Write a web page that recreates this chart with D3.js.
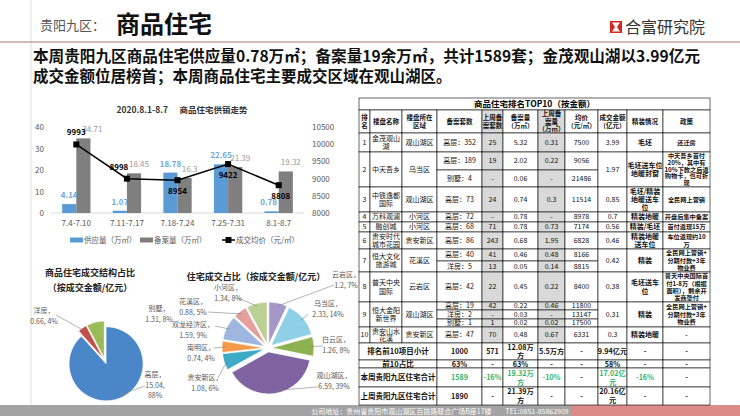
<!DOCTYPE html>
<html>
<head>
<meta charset="utf-8">
<script src="https://cdn.jsdelivr.net/npm/d3@7"></script>
<style>
body { margin: 0; background: #fff; }
svg { display: block; }
</style>
</head>
<body>
<script>
const FONT = '"Noto Sans CJK SC", "Noto Sans", sans-serif';

// ---- bar / line chart data
const weeks = ["7.4-7.10", "7.11-7.17", "7.18-7.24", "7.25-7.31", "8.1-8.7"];
const supply = [4.14, 1.07, 18.78, 22.65, 0.78];
const filed = [34.71, 18.45, 16.3, 21.39, 19.32];
const price = [9993, 8998, 8954, 9422, 8808];
const leftTicks = [0, 10, 20, 30, 40];
const rightTicks = [8000, 8500, 9000, 9500, 10000, 10500];

// ---- structure pie
const typeNames = ["高层", "洋房", "别墅"];
const typeValues = [15.04, 0.66, 1.31];
const typePct = ["88%", "4%", "8%"];

// ---- district pie
const districts = ["云岩区", "乌当区", "白云区", "观山湖区", "贵安新区", "南明区", "双龙经济区", "花溪区", "小河区"];
const districtValues = [1.2, 2.33, 1.26, 6.59, 1.08, 0.74, 1.59, 0.88, 1.34];
const districtPct = ["7%", "14%", "8%", "39%", "6%", "4%", "9%", "5%", "8%"];

// ---- top10 table
const headers = ["排\n名", "楼盘名称", "楼盘所在\n区域", "备案套数", "上周备\n案套数", "备案量\n（万㎡）",
    "上周备\n案量\n（万㎡）", "均价\n（元/㎡）", "成交金额\n（亿元）", "精装情况", "政策"];
const ranks = ["1", "2", "3", "4", "5", "6", "7", "8", "9", "10"];
const projects = ["金茂观山\n湖", "中天吾乡", "中铁逸都\n国际", "万科观澜", "融创城", "贵安时代\n城市花园",
    "恒大文化\n旅游城", "普天中央\n国际", "恒大金阳\n新世界", "贵安山水\n花溪"];
const areas = ["观山湖区", "乌当区", "观山湖区", "小河区", "小河区", "贵安新区", "花溪区", "云岩区", "观山湖区", "贵安新区"];
const unitSets = [["高层：352"], ["高层：189", "别墅：4"], ["高层：73"], ["高层：72"], ["高层：68"], ["高层：86"],
    ["高层：40", "洋房：5"], ["高层：42"], ["高层：19", "洋房：2", "别墅：1"], ["高层：47"]];
const lastUnits = [["25"], ["19", "-"], ["24"], ["-"], ["71"], ["243"], ["41", "13"], ["22"], ["42", "-", "1"], ["70"]];
const volumes = [["5.32"], ["2.02", "0.06"], ["0.74"], ["0.78"], ["0.78"], ["0.68"], ["0.46", "0.05"], ["0.45"],
    ["0.22", "0.03", "0.02"], ["0.48"]];
const lastVolumes = [["0.31"], ["0.22", "-"], ["0.3"], ["-"], ["0.73"], ["1.95"], ["0.48", "0.14"], ["0.22"],
    ["0.46", "-", "0.02"], ["0.67"]];
const avgPrices = [["7500"], ["9056", "21486"], ["11514"], ["8978"], ["7174"], ["6828"], ["8166", "8815"], ["8400"],
    ["11800", "13147", "17500"], ["6331"]];
const amounts = ["3.99", "1.97", "0.85", "0.7", "0.56", "0.46", "0.42", "0.38", "0.31", "0.3"];
const finishes = ["毛坯", "毛坯送车位\n地暖封窗", "毛坯/精装\n地暖送车\n位", "精装地暖", "精装/毛坯", "精装地暖\n送车位",
    "精装", "毛坯送车\n位", "精装", "精装地暖"];
const policies = ["还迁房", "中天吾乡首付\n20%，其中有\n10%下款之后返\n购物卡，也可折\n现", "全民网上营销",
    "开盘后集中备案", "首付返现15万", "车位返现约10\n万", "全民网上营销+\n分期付款+3年\n物业费",
    "普天中央国际首\n付1-8万（根据\n面积），剩余开\n发商垫付", "全民网上营销+\n分期付款+3年\n物业费", "-"];
const totalLabels = ["排名前10项目小计", "前10占比", "本周贵阳九区住宅合计", "上周贵阳九区住宅合计"];
const totals = [
    ["1000", "571", "12.08万\n方", "5.5万方", "-", "9.94亿元", "-", "-"],
    ["63%", "-", "63%", "-", "-", "58%", "-", "-"],
    ["1589", "-16%", "19.32万\n方", "-10%", "-", "17.02亿\n元", "-16%", "-"],
    ["1890", "-", "21.39万\n方", "-", "-", "20.16亿\n元", "-", "-"]
];

var svg = d3.select("body")
    .append("svg")
    .attr("width", 740)
    .attr("height", 416)
    .style("font-family", FONT);

// ---------- page frame
svg.append("line")
    .attr("x1", 31).attr("x2", 31).attr("y1", 0).attr("y2", 405)
    .attr("stroke", "#dcdcdc");
svg.append("line")
    .attr("x1", 0).attr("x2", 740).attr("y1", 42).attr("y2", 42)
    .attr("stroke", "#c9a1a1").attr("stroke-width", 1.5);

svg.append("text")
    .attr("x", 40).attr("y", 30)
    .attr("font-size", 13).attr("fill", "#555")
    .text("贵阳九区：");
svg.append("text")
    .attr("x", 116).attr("y", 33)
    .attr("font-size", 24).attr("font-weight", "bold").attr("fill", "#111")
    .text("商品住宅");

// logo
var logo = svg.append("g").attr("transform", "translate(610,21)");
logo.append("rect").attr("width", 12).attr("height", 12).attr("fill", "#d8251d");
logo.append("path").attr("d", "M2,1.5H10L7,6L10,10.5H2L5,6Z").attr("fill", "#fff");
svg.append("text")
    .attr("x", 625).attr("y", 33)
    .attr("font-size", 16).attr("fill", "#333")
    .text("合富研究院");

svg.append("text")
    .attr("x", 33).attr("y", 62)
    .attr("font-size", 15.5).attr("font-weight", "bold").attr("fill", "#111")
    .attr("textLength", 667).attr("lengthAdjust", "spacingAndGlyphs")
    .text("本周贵阳九区商品住宅供应量0.78万㎡；备案量19余万㎡，共计1589套；金茂观山湖以3.99亿元");
svg.append("text")
    .attr("x", 33).attr("y", 82)
    .attr("font-size", 15.5).attr("font-weight", "bold").attr("fill", "#111")
    .text("成交金额位居榜首；本周商品住宅主要成交区域在观山湖区。");

// footer
svg.append("rect").attr("x", 0).attr("y", 405).attr("width", 740).attr("height", 11).attr("fill", "#a3a3a3");
svg.append("rect").attr("x", 571).attr("y", 405).attr("width", 169).attr("height", 11).attr("fill", "#dc8b8b");
svg.append("text")
    .attr("x", 440).attr("y", 413.5)
    .attr("text-anchor", "middle")
    .attr("font-size", 7).attr("fill", "#fff")
    .text("公司地址：贵州省贵阳市观山湖区百挑路联合广场B座17楼　　TEL:0851-85862909");

// ---------- bar + line chart
var x = d3.scaleBand().domain(weeks).range([51, 304]).paddingInner(0.44).paddingOuter(0.22);
var yL = d3.scaleLinear().domain([0, 40]).range([213, 127]);
var yR = d3.scaleLinear().domain([8000, 10500]).range([213, 127]);
var bw = x.bandwidth() / 2;

svg.append("text")
    .attr("x", 182).attr("y", 113)
    .attr("text-anchor", "middle")
    .attr("font-size", 8.5).attr("font-weight", "bold").attr("fill", "#333")
    .attr("xml:space", "preserve")
    .text("2020.8.1-8.7      商品住宅供销走势");

svg.selectAll(".lt")
    .data(leftTicks)
    .enter()
    .append("text")
    .attr("class", "lt")
    .attr("x", 44)
    .attr("y", d => yL(d) + 3)
    .attr("text-anchor", "end")
    .attr("font-size", 8).attr("fill", "#595959")
    .text(d => d);

svg.selectAll(".rt")
    .data(rightTicks)
    .enter()
    .append("text")
    .attr("class", "rt")
    .attr("x", 312)
    .attr("y", d => yR(d) + 3)
    .attr("font-size", 8).attr("fill", "#595959")
    .text(d => d);

svg.append("line")
    .attr("x1", 51).attr("x2", 304).attr("y1", yL(0)).attr("y2", yL(0))
    .attr("stroke", "#d9d9d9");

svg.selectAll(".supply")
    .data(supply)
    .enter()
    .append("rect")
    .attr("class", "supply")
    .attr("x", (d, i) => x(weeks[i]))
    .attr("y", d => yL(d))
    .attr("width", bw)
    .attr("height", d => yL(0) - yL(d))
    .attr("fill", "#5b9bd5");

svg.selectAll(".filed")
    .data(filed)
    .enter()
    .append("rect")
    .attr("class", "filed")
    .attr("x", (d, i) => x(weeks[i]) + bw)
    .attr("y", d => yL(d))
    .attr("width", bw)
    .attr("height", d => yL(0) - yL(d))
    .attr("fill", "#7f7f7f");

svg.selectAll(".cat")
    .data(weeks)
    .enter()
    .append("text")
    .attr("class", "cat")
    .attr("x", d => x(d) + x.bandwidth() / 2)
    .attr("y", 226)
    .attr("text-anchor", "middle")
    .attr("font-size", 8).attr("fill", "#595959")
    .text(d => d);

svg.selectAll(".sl")
    .data(supply)
    .enter()
    .append("text")
    .attr("class", "sl")
    .attr("x", (d, i) => x(weeks[i]) + bw / 2 - (i === 4 ? 3 : 0))
    .attr("y", d => yL(d) - 6)
    .attr("text-anchor", "middle")
    .attr("font-size", 8).attr("font-weight", "bold").attr("fill", "#6fa8dc")
    .text(d => d);

svg.selectAll(".fl")
    .data(filed)
    .enter()
    .append("text")
    .attr("class", "fl")
    .attr("x", (d, i) => x(weeks[i]) + bw * 1.5 + (i === 0 ? 9 : 5))
    .attr("y", d => yL(d) - 6)
    .attr("text-anchor", "middle")
    .attr("font-size", 8).attr("fill", "#999")
    .text(d => d);

var line = d3.line()
    .x((d, i) => x(weeks[i]) + bw)
    .y(d => yR(d));

svg.append("path")
    .datum(price)
    .attr("d", line)
    .attr("fill", "none")
    .attr("stroke", "#000")
    .attr("stroke-width", 1.5);

svg.selectAll(".pm")
    .data(price)
    .enter()
    .append("rect")
    .attr("class", "pm")
    .attr("x", (d, i) => x(weeks[i]) + bw - 3)
    .attr("y", d => yR(d) - 3)
    .attr("width", 6).attr("height", 6)
    .attr("fill", "#000");

svg.selectAll(".pl")
    .data(price)
    .enter()
    .append("text")
    .attr("class", "pl")
    .attr("x", (d, i) => x(weeks[i]) + bw - (i === 1 ? 8 : 0) + (i === 4 ? 2 : 0))
    .attr("y", (d, i) => yR(d) + (i < 2 ? -9 : 14))
    .attr("text-anchor", "middle")
    .attr("font-size", 8).attr("font-weight", "bold").attr("fill", "#000")
    .text(d => d);

// legend
var lg = svg.append("g").attr("transform", "translate(70,240)");
lg.append("rect").attr("x", 0).attr("y", -2.5).attr("width", 13).attr("height", 5).attr("fill", "#5b9bd5");
lg.append("text").attr("x", 14).attr("y", 3).attr("font-size", 7.5).attr("fill", "#595959").text("供应量（万㎡）");
lg.append("rect").attr("x", 70).attr("y", -2.5).attr("width", 13).attr("height", 5).attr("fill", "#7f7f7f");
lg.append("text").attr("x", 84).attr("y", 3).attr("font-size", 7.5).attr("fill", "#595959").text("备案量（万㎡）");
lg.append("line").attr("x1", 152).attr("x2", 165).attr("y1", 0).attr("y2", 0).attr("stroke", "#000").attr("stroke-width", 1.5);
lg.append("rect").attr("x", 155.5).attr("y", -3).attr("width", 6).attr("height", 6).attr("fill", "#000");
lg.append("text").attr("x", 166).attr("y", 3).attr("font-size", 7.5).attr("fill", "#595959").text("成交均价（元/㎡）");

// ---------- pies
function drawPie(opts) {
    var pie = d3.pie().sort(null).value(d => d.v);
    var arc = d3.arc().innerRadius(0).outerRadius(opts.r);
    var arcs = pie(opts.data);
    var g = svg.append("g").attr("transform", "translate(" + opts.cx + "," + opts.cy + ")");
    g.selectAll("path")
        .data(arcs)
        .enter()
        .append("path")
        .attr("d", arc)
        .attr("fill", (d, i) => opts.colors[i])
        .attr("stroke", "#fff")
        .attr("stroke-width", 0.6)
        .attr("transform", d => {
            var a = (d.startAngle + d.endAngle) / 2;
            return "translate(" + Math.sin(a) * opts.explode + "," + (-Math.cos(a) * opts.explode) + ")";
        });
    arcs.forEach((d, i) => {
        var a = (d.startAngle + d.endAngle) / 2;
        var lp = opts.labels[i];
        var rr = opts.r + opts.explode - 3;
        var sx = opts.cx + Math.sin(a) * rr, sy = opts.cy - Math.cos(a) * rr;
        if (lp.lead) {
            svg.append("line")
                .attr("x1", sx).attr("y1", sy).attr("x2", lp.lead[0]).attr("y2", lp.lead[1])
                .attr("stroke", "#7f7f7f").attr("stroke-width", 0.6);
        }
        var t = svg.append("text")
            .attr("text-anchor", "middle")
            .attr("font-size", 7).attr("fill", "#595959");
        lp.lines.forEach((s, k) => {
            t.append("tspan").attr("x", lp.x).attr("y", lp.y + k * 10.5).text(s);
        });
    });
}

svg.append("text").attr("x", 90).attr("y", 276).attr("text-anchor", "middle")
    .attr("font-size", 9).attr("font-weight", "bold").attr("fill", "#222").text("商品住宅成交结构占比");
svg.append("text").attr("x", 90).attr("y", 291).attr("text-anchor", "middle")
    .attr("font-size", 9).attr("font-weight", "bold").attr("fill", "#222").text("（按成交金额/亿元）");

drawPie({
    cx: 105, cy: 361, r: 37, explode: 3,
    data: typeNames.map((n, i) => ({ n: n, v: typeValues[i] })),
    colors: ["#4a86c8", "#c0504d", "#9bbb59"],
    labels: [
        { x: 155, y: 377, lines: [typeNames[0] + "，", typeValues[0] + ",", typePct[0]], lead: [145, 386] },
        { x: 44, y: 313, lines: [typeNames[1] + "，", typeValues[1] + ", " + typePct[1]], lead: [56, 315] },
        { x: 159, y: 311, lines: [typeNames[2] + "，", typeValues[2] + ", " + typePct[2]] }
    ]
});

svg.append("text").attr("x", 256).attr("y", 280).attr("text-anchor", "middle")
    .attr("font-size", 9).attr("font-weight", "bold").attr("fill", "#222").text("住宅成交占比（按成交金额/亿元）");

drawPie({
    cx: 268, cy: 348, r: 42, explode: 4,
    data: districts.map((n, i) => ({ n: n, v: districtValues[i] })),
    colors: ["#a597c8", "#8fd0e6", "#8db150", "#7f63a1", "#3eaac6", "#f59a4a", "#9fb7de", "#e3a09c", "#bcd095"],
    labels: [
        { x: 346, y: 277, lines: [districts[0] + "，", districtValues[0] + ", " + districtPct[0]], lead: [334, 285] },
        { x: 328, y: 306, lines: [districts[1] + "，", districtValues[1] + ", " + districtPct[1]], lead: [308, 314] },
        { x: 336, y: 342, lines: [districts[2] + "，", districtValues[2] + ", " + districtPct[2]], lead: [323, 346] },
        { x: 334, y: 378, lines: [districts[3] + "，", districtValues[3] + ", " + districtPct[3]], lead: [318, 387] },
        { x: 205, y: 380, lines: [districts[4] + "，", districtValues[4] + ", " + districtPct[4]], lead: [218, 378] },
        { x: 201, y: 350, lines: [districts[5] + "，", districtValues[5] + ", " + districtPct[5]], lead: [214, 348] },
        { x: 193, y: 327, lines: [districts[6] + "，", districtValues[6] + ", " + districtPct[6]], lead: [215, 326] },
        { x: 193, y: 304, lines: [districts[7] + "，", districtValues[7] + ", " + districtPct[7]], lead: [208, 312] },
        { x: 228, y: 290, lines: [districts[8] + "，", districtValues[8] + ", " + districtPct[8]], lead: [238, 298] }
    ]
});

// ---------- table
const colX = [359, 370, 402, 437, 482, 503, 538, 565, 598, 627, 663, 710];
const titleH = 12, headH = 23;
const projRowH = [[19], [18, 17], [25], [10], [10], [17], [12, 11], [30], [8, 9, 8], [16]];
const totalRowH = [17, 8, 19, 18];
const grayCols = [4, 6];
const tableTop = 98;

var tbl = svg.append("g");

function cell(c0, c1, y0, y1, text, o) {
    o = o || {};
    var fs = o.fs || 7;
    tbl.append("rect")
        .attr("x", colX[c0]).attr("y", y0)
        .attr("width", colX[c1] - colX[c0]).attr("height", y1 - y0)
        .attr("fill", o.fill || "#fff")
        .attr("stroke", "#000").attr("stroke-width", 0.6);
    var lines = String(text).split("\n");
    var lh = Math.min(fs * 1.25, (y1 - y0 - 1) / lines.length);
    var cy = (y0 + y1) / 2 - (lines.length - 1) * lh / 2;
    var t = tbl.append("text")
        .attr("text-anchor", "middle")
        .attr("font-size", fs)
        .attr("font-weight", o.bold ? "bold" : "normal")
        .attr("fill", o.color || "#111");
    lines.forEach((s, k) => {
        t.append("tspan")
            .attr("x", (colX[c0] + colX[c1]) / 2)
            .attr("y", cy + k * lh)
            .attr("dy", "0.35em")
            .text(s);
    });
}

// title row
tbl.append("rect").attr("x", colX[0]).attr("y", tableTop).attr("width", colX[11] - colX[0]).attr("height", titleH)
    .attr("fill", "#fff").attr("stroke", "#000").attr("stroke-width", 0.6);
tbl.append("text").attr("x", (colX[0] + colX[11]) / 2).attr("y", tableTop + titleH / 2).attr("dy", "0.35em")
    .attr("text-anchor", "middle").attr("font-size", 8.5).attr("font-weight", "bold")
    .text("商品住宅排名TOP10（按金额）");

var yy = tableTop + titleH;
headers.forEach((h, c) => {
    cell(c, c + 1, yy, yy + headH, h, { bold: true, fill: grayCols.includes(c) ? "#d9d9d9" : "#fff", fs: 6.5 });
});
yy += headH;

ranks.forEach((r, i) => {
    var hs = projRowH[i];
    var total = d3.sum(hs);
    var y0 = yy, y1 = yy + total;
    cell(0, 1, y0, y1, r);
    cell(1, 2, y0, y1, projects[i]);
    cell(2, 3, y0, y1, areas[i]);
    var sy = y0;
    hs.forEach((h, k) => {
        cell(3, 4, sy, sy + h, unitSets[i][k]);
        cell(4, 5, sy, sy + h, lastUnits[i][k], { fill: "#d9d9d9" });
        cell(5, 6, sy, sy + h, volumes[i][k]);
        cell(6, 7, sy, sy + h, lastVolumes[i][k], { fill: "#d9d9d9" });
        cell(7, 8, sy, sy + h, avgPrices[i][k]);
        sy += h;
    });
    cell(8, 9, y0, y1, amounts[i]);
    cell(9, 10, y0, y1, finishes[i], { bold: true });
    cell(10, 11, y0, y1, policies[i], { bold: true, fs: 6.2 });
    yy = y1;
});

totalLabels.forEach((lab, i) => {
    var h = totalRowH[i];
    var green = i === 2;
    cell(0, 3, yy, yy + h, lab, { bold: true, fs: 7.5 });
    totals[i].forEach((v, k) => {
        var isGreen = green && v !== "-";
        cell(3 + k, 4 + k, yy, yy + h, v, { bold: true, color: isGreen ? "#2fb36d" : "#111", fs: 7.2 });
    });
    yy += h;
});
</script>
</body>
</html>
